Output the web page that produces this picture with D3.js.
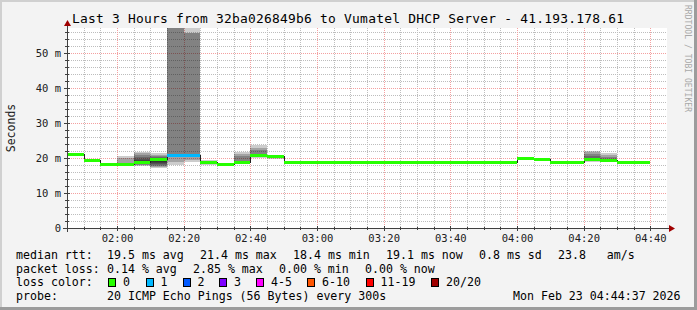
<!DOCTYPE html>
<html>
<head>
<meta charset="utf-8">
<script src="https://cdn.jsdelivr.net/npm/d3@7"></script>
<style>
html, body { margin: 0; padding: 0; background: #f3f3f3; }
svg { display: block; font-family: "DejaVu Sans Mono", monospace; }
</style>
</head>
<body>
<div id="chart"></div>
<script>
// Chart text
const title = "Last 3 Hours from 32ba026849b6 to Vumatel DHCP Server - 41.193.178.61";
const yTicks = [0, 10, 20, 30, 40, 50];
const xTicks = ["02:00", "02:20", "02:40", "03:00", "03:20", "03:40", "04:00", "04:20", "04:40"];

// One entry per 5 minute step (start time)
const stepTimes = ["01:45", "01:50", "01:55", "02:00", "02:05", "02:10", "02:15", "02:20", "02:25", "02:30",
  "02:35", "02:40", "02:45", "02:50", "02:55", "03:00", "03:05", "03:10", "03:15", "03:20",
  "03:25", "03:30", "03:35", "03:40", "03:45", "03:50", "03:55", "04:00", "04:05", "04:10",
  "04:15", "04:20", "04:25", "04:30", "04:35"];
const medianMs = [21.2, 19.4, 18.4, 18.4, 18.9, 19.8, 21.0, 21.0, 19.0, 18.4,
  19.0, 21.0, 20.6, 18.9, 18.9, 18.9, 18.9, 18.9, 18.9, 18.9,
  18.9, 18.9, 18.9, 18.9, 18.9, 18.9, 18.9, 20.1, 19.7, 18.9,
  18.9, 19.7, 19.3, 18.9, 18.9];
const lossCount = [0, 0, 0, 0, 0, 0, 1, 1, 0, 0,
  0, 0, 0, 0, 0, 0, 0, 0, 0, 0,
  0, 0, 0, 0, 0, 0, 0, 0, 0, 0,
  0, 0, 0, 0, 0];

// Smoke: nested ping ranges (ms) per step, outer to inner
const smoke = {
  "02:00": [[18.2, 20.6], [18.4, 20.0]],
  "02:05": [[17.7, 21.7], [17.9, 21.4], [18.1, 21.0], [18.3, 20.3], [18.5, 19.8], [18.7, 19.4]],
  "02:10": [[17.2, 21.3], [17.5, 21.0], [17.8, 20.7], [18.1, 20.4], [18.4, 20.1], [18.7, 19.8], [19.0, 19.6]],
  "02:15": [[18.0, 60], [19.0, 60], [20.2, 60]],
  "02:20": [[18.8, 60], [19.5, 55.7], [20.4, 55.7]],
  "02:25": [[18.0, 19.4], [18.5, 19.2]],
  "02:35": [[18.5, 21.7], [18.8, 21.2], [19.0, 20.6]],
  "02:40": [[19.9, 23.6], [20.2, 23.0], [20.5, 22.4]],
  "02:45": [[19.6, 21.0], [19.9, 20.8]],
  "04:20": [[18.9, 21.9], [19.1, 21.6], [19.3, 21.2], [19.5, 20.7]],
  "04:25": [[19.0, 21.3], [19.2, 20.9], [19.4, 20.4]]
};

// Legend
const lossLabels = ["0", "1", "2", "3", "4-5", "6-10", "11-19", "20/20"];
const lossColors = ["#26ff00", "#00b8ff", "#0059ff", "#7e00ff", "#ff00ff", "#ff5500", "#ff0000", "#a00000"];
const rttStats = ["19.5 ms avg", "21.4 ms max", "18.4 ms min", "19.1 ms now", "0.8 ms sd", "23.8   am/s"];
const lossStats = ["0.14 % avg", "2.85 % max", "0.00 % min", "0.00 % now"];
const probeText = "20 ICMP Echo Pings (56 Bytes) every 300s";
const stampText = "Mon Feb 23 04:44:37 2026";

const W = 697, H = 310;
const plot = { left: 67, right: 667, top: 28, bottom: 228 };
const parse = s => { const [h, m] = s.split(":").map(Number); return new Date(2026, 1, 23, h, m); };
const STEP = 5 * 60 * 1000;

const svg = d3.select("#chart").append("svg")
    .attr("width", W)
    .attr("height", H);

// Background and frame
svg.append("rect").attr("width", W).attr("height", H).attr("fill", "#f3f3f3");
svg.append("rect").attr("x", 0).attr("y", 0).attr("width", W).attr("height", 2).attr("fill", "#d0d0d0");
svg.append("rect").attr("x", 0).attr("y", 0).attr("width", 2).attr("height", H).attr("fill", "#d0d0d0");
svg.append("rect").attr("x", 0).attr("y", H - 3).attr("width", W).attr("height", 3).attr("fill", "#9c9c9c");
svg.append("rect").attr("x", W - 3).attr("y", 0).attr("width", 3).attr("height", H).attr("fill", "#9c9c9c");

svg.append("rect")
    .attr("x", plot.left).attr("y", plot.top)
    .attr("width", plot.right - plot.left).attr("height", plot.bottom - plot.top)
    .attr("fill", "#ffffff");

// Scales
const x = d3.scaleTime()
    .domain([parse("01:45"), parse("04:45")])
    .range([plot.left, plot.right]);
const y = d3.scaleLinear()
    .domain([0, 200 / 3.5])
    .range([plot.bottom, plot.top]);

// Grid
const grid = svg.append("g").attr("shape-rendering", "crispEdges");
const minorTimes = d3.timeMinute.every(5).range(x.domain()[0], x.domain()[1]).filter(d => d > x.domain()[0]);
grid.selectAll(".vminor")
    .data(minorTimes.filter(d => d.getMinutes() % 20 !== 0))
    .join("line")
    .attr("x1", d => Math.round(x(d)) + 0.5).attr("x2", d => Math.round(x(d)) + 0.5)
    .attr("y1", plot.top).attr("y2", plot.bottom)
    .attr("stroke", "#bdbdbd").attr("stroke-dasharray", "1,1");
const yMinor = d3.range(2, 57, 2).filter(v => v % 10 !== 0);
grid.selectAll(".hminor")
    .data(yMinor)
    .join("line")
    .attr("x1", plot.left).attr("x2", plot.right)
    .attr("y1", d => Math.round(y(d)) + 0.5).attr("y2", d => Math.round(y(d)) + 0.5)
    .attr("stroke", "#bdbdbd").attr("stroke-dasharray", "1,1");
grid.selectAll(".vmajor")
    .data(xTicks.map(parse))
    .join("line")
    .attr("x1", d => Math.round(x(d)) + 0.5).attr("x2", d => Math.round(x(d)) + 0.5)
    .attr("y1", plot.top).attr("y2", plot.bottom)
    .attr("stroke", "#f4a0a0").attr("stroke-dasharray", "1,1");
grid.selectAll(".hmajor")
    .data(yTicks.filter(v => v > 0))
    .join("line")
    .attr("x1", plot.left).attr("x2", plot.right)
    .attr("y1", d => Math.round(y(d)) + 0.5).attr("y2", d => Math.round(y(d)) + 0.5)
    .attr("stroke", "#f4a0a0").attr("stroke-dasharray", "1,1");

// Smoke
svg.append("clipPath").attr("id", "plotclip")
  .append("rect")
    .attr("x", plot.left).attr("y", plot.top)
    .attr("width", plot.right - plot.left).attr("height", plot.bottom - plot.top);

const smokeG = svg.append("g").attr("clip-path", "url(#plotclip)").attr("shape-rendering", "crispEdges");
Object.entries(smoke).forEach(([t, bands]) => {
    const t0 = parse(t);
    smokeG.selectAll(null)
        .data(bands)
        .join("rect")
        .attr("x", Math.round(x(t0)))
        .attr("width", Math.round(x(new Date(+t0 + STEP))) - Math.round(x(t0)))
        .attr("y", d => y(d[1]))
        .attr("height", d => y(d[0]) - y(d[1]))
        .attr("fill", "#000")
        .attr("fill-opacity", 0.2);
});

// Median line (black step line)
const steps = stepTimes.map((t, i) => ({ t: parse(t), v: medianMs[i], loss: lossCount[i] }));
const stepLine = d3.line()
    .x(d => Math.round(x(d.t)))
    .y(d => Math.round(y(d.v)) + 0.5)
    .curve(d3.curveStepAfter);
const lastStep = steps[steps.length - 1];
svg.append("path")
    .datum(steps.concat([{ t: new Date(+lastStep.t + STEP), v: lastStep.v }]))
    .attr("d", stepLine)
    .attr("fill", "none")
    .attr("stroke", "#202020")
    .attr("stroke-width", 1)
    .attr("shape-rendering", "crispEdges");

// Loss-coloured median segments
svg.selectAll(".seg")
    .data(steps)
    .join("line")
    .attr("x1", d => Math.round(x(d.t)))
    .attr("x2", d => Math.round(x(new Date(+d.t + STEP))))
    .attr("y1", d => Math.round(y(d.v)) + 0.5)
    .attr("y2", d => Math.round(y(d.v)) + 0.5)
    .attr("stroke", d => lossColors[d.loss])
    .attr("stroke-width", 3)
    .attr("shape-rendering", "crispEdges");

// Axes
const axes = svg.append("g").attr("shape-rendering", "crispEdges");
axes.append("line")
    .attr("x1", plot.left + 0.5).attr("x2", plot.left + 0.5)
    .attr("y1", plot.bottom + 4).attr("y2", plot.top - 3)
    .attr("stroke", "#404040");
axes.append("line")
    .attr("x1", plot.left - 4).attr("x2", plot.right + 2)
    .attr("y1", plot.bottom + 0.5).attr("y2", plot.bottom + 0.5)
    .attr("stroke", "#404040");
axes.selectAll(".ytick")
    .data(d3.range(0, 57, 2))
    .join("line")
    .attr("x1", d => d % 10 === 0 ? plot.left - 3 : plot.left - 2)
    .attr("x2", d => d % 10 === 0 ? plot.left + 3 : plot.left + 2)
    .attr("y1", d => Math.round(y(d)) + 0.5).attr("y2", d => Math.round(y(d)) + 0.5)
    .attr("stroke", "#404040");
axes.selectAll(".xtick")
    .data(minorTimes)
    .join("line")
    .attr("x1", d => Math.round(x(d)) + 0.5).attr("x2", d => Math.round(x(d)) + 0.5)
    .attr("y1", d => d.getMinutes() % 20 === 0 ? plot.bottom - 2 : plot.bottom - 1)
    .attr("y2", d => d.getMinutes() % 20 === 0 ? plot.bottom + 3 : plot.bottom + 2)
    .attr("stroke", "#404040");

// Arrowheads
svg.append("path")
    .attr("d", `M${plot.left - 3},${plot.top - 2}L${plot.left + 4},${plot.top - 2}L${plot.left + 0.5},${plot.top - 8}Z`)
    .attr("fill", "#a00000");
svg.append("path")
    .attr("d", `M${plot.right + 2},${plot.bottom - 3}L${plot.right + 2},${plot.bottom + 4}L${plot.right + 8},${plot.bottom + 0.5}Z`)
    .attr("fill", "#a00000");

// Tick labels
svg.selectAll(".ylab")
    .data(yTicks)
    .join("text")
    .attr("x", 61)
    .attr("y", d => y(d))
    .attr("dy", "0.36em")
    .attr("text-anchor", "end")
    .attr("font-size", "10.5px")
    .attr("fill", "#202020")
    .text(d => d === 0 ? "0" : d + " m");
svg.selectAll(".xlab")
    .data(xTicks)
    .join("text")
    .attr("x", d => x(parse(d)) + 0.5)
    .attr("y", 242)
    .attr("text-anchor", "middle")
    .attr("font-size", "10.5px")
    .attr("fill", "#202020")
    .text(d => d);

// Title, axis label, watermark
svg.append("text")
    .attr("x", 348).attr("y", 23)
    .attr("text-anchor", "middle")
    .attr("font-size", "12.9px")
    .attr("textLength", 552)
    .attr("lengthAdjust", "spacing")
    .attr("fill", "#000")
    .text(title);
svg.append("text")
    .attr("transform", "translate(15,128) rotate(-90)")
    .attr("text-anchor", "middle")
    .attr("font-size", "11.5px")
    .attr("fill", "#202020")
    .text("Seconds");
svg.append("text")
    .attr("transform", "translate(685,5) rotate(90)")
    .attr("font-size", "8px")
    .attr("textLength", 107)
    .attr("lengthAdjust", "spacing")
    .attr("fill", "#a8a8a8")
    .text("RRDTOOL / TOBI OETIKER");

// Legend
const legend = svg.append("g")
    .attr("font-size", "11.6px")
    .attr("fill", "#000");
const rowY = [259, 272.5, 286, 299.5];
const rttX = [107, 200, 293, 386, 479, 558];
const lossX = [107, 193, 279, 365];
const boxX = [108, 145.5, 182.5, 219, 256, 307, 365.5, 431];

legend.append("text").attr("x", 16).attr("y", rowY[0]).text("median rtt:");
legend.selectAll(".rtt").data(rttStats).join("text")
    .attr("x", (d, i) => rttX[i]).attr("y", rowY[0])
    .attr("xml:space", "preserve")
    .text(d => d);

legend.append("text").attr("x", 16).attr("y", rowY[1]).text("packet loss:");
legend.selectAll(".pl").data(lossStats).join("text")
    .attr("x", (d, i) => lossX[i]).attr("y", rowY[1]).text(d => d);

legend.append("text").attr("x", 16).attr("y", rowY[2]).text("loss color:");
const items = legend.selectAll(".lc").data(lossLabels).join("g");
items.append("rect")
    .attr("x", (d, i) => boxX[i] + 0.5).attr("y", 278.5)
    .attr("width", 7).attr("height", 8)
    .attr("fill", (d, i) => lossColors[i])
    .attr("stroke", "#000").attr("stroke-width", 1)
    .attr("shape-rendering", "crispEdges");
items.append("text")
    .attr("x", (d, i) => boxX[i] + 15).attr("y", rowY[2])
    .text(d => d);

legend.append("text").attr("x", 16).attr("y", rowY[3]).text("probe:");
legend.append("text").attr("x", 107).attr("y", rowY[3]).text(probeText);
legend.append("text").attr("x", 513).attr("y", rowY[3]).text(stampText);
</script>
</body>
</html>
